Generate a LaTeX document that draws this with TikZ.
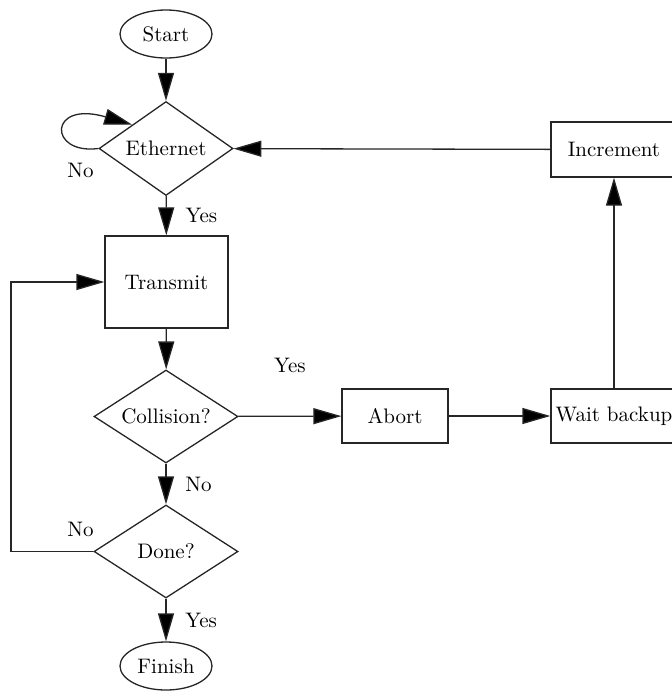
\documentclass[tikz,border=0pt]{standalone}
\usetikzlibrary{shapes.geometric,arrows.meta,calc}
\begin{document}
\begin{tikzpicture}[x=0.5pt,y=-0.5pt,
  every node/.style={font=\fontsize{10.5}{12}\selectfont},
  line/.style={draw=black!85,line width=0.65pt},
  arr/.style={line,-{Triangle[length=14pt,width=8pt,fill=black]}},
  term/.style={line,ellipse,minimum width=46pt,minimum height=24pt,inner sep=0pt},
  dec/.style={line,diamond,aspect=1.5,inner sep=0pt},
  proc/.style={line,rectangle,inner sep=0pt},
  lab/.style={inner sep=0pt}]
\useasboundingbox (0,0) rectangle (672,697);
\clip (0,0) rectangle (672,697);
\node[term] (start) at (166,34) {Start};
\node[dec,minimum width=67pt,minimum height=47pt] (eth) at (166,148.5) {Ethernet};
\node[proc,minimum width=61.5pt,minimum height=46pt] (tx) at (166.5,282) {Transmit};
\node[dec,minimum width=72pt,minimum height=46.5pt] (col) at (166,416.5) {Collision?};
\node[proc,minimum width=53pt,minimum height=27pt] (abort) at (395,416) {Abort};
\node[proc,minimum width=63pt,minimum height=27pt] (wait) at (614,416) {Wait backup};
\node[proc,minimum width=63pt,minimum height=27.5pt] (inc) at (614,149.5) {Increment};
\node[dec,minimum width=72pt,minimum height=46.5pt] (done) at (166,551.5) {Done?};
\node[term] (finish) at (166,666) {Finish};
\coordinate (leftx) at (11,0);

\draw[arr] (start) -- (eth);
\draw[arr] (eth.west) .. controls (48,155) and (48,100) .. (eth.north west)
  node[pos=0,lab,anchor=north east,xshift=-2pt,yshift=-7pt] {No};
\draw[arr] (eth) -- node[midway,right=6pt] {Yes} (tx);
\draw[arr] (tx) -- (col);
\draw[arr] (col) -- node[midway,above=18pt] {Yes} (abort);
\draw[arr] (abort) -- (wait);
\draw[arr] (wait) -- (inc);
\draw[arr] (inc) -- (eth);
\draw[arr] (col) -- node[midway,right=6pt] {No} (done);
\draw[arr] (done.west) node[lab,anchor=south east,xshift=0.5pt,yshift=7pt] {No}
  -- (leftx |- done.west) -- (leftx |- tx.west) -- (tx.west);
\draw[arr] (done) -- node[midway,right=6pt] {Yes} (finish);
\end{tikzpicture}
\end{document}
